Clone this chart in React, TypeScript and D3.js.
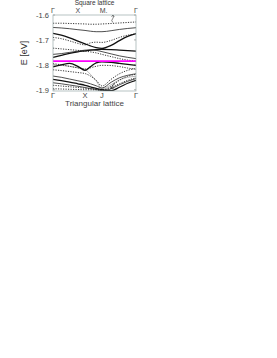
import * as d3 from 'd3';

// k path (normalized), with X at 0.386 and J at 0.59 on the bottom axis
const K = [0, 0.1, 0.2, 0.3, 0.386, 0.45, 0.52, 0.59, 0.7, 0.8, 0.9, 1];

const yTicks = [-1.6, -1.7, -1.8, -1.9];
const topLabels = [['Γ', 0], ['X', 0.3], ['M.', 0.61], ['Γ', 1]] as const;
const bottomLabels = [['Γ', 0], ['X', 0.386], ['J', 0.59], ['Γ', 1]] as const;
const fermiE = -1.785;

// solid bands
const solidThin = [
  [-1.650, -1.652, -1.655, -1.659, -1.662, -1.665, -1.667, -1.667, -1.663, -1.658, -1.654, -1.651],
  [-1.758, -1.755, -1.750, -1.745, -1.741, -1.740, -1.742, -1.747, -1.756, -1.764, -1.770, -1.775],
  [-1.845, -1.850, -1.857, -1.864, -1.870, -1.876, -1.884, -1.893, -1.870, -1.852, -1.842, -1.836],
  [-1.872, -1.876, -1.881, -1.886, -1.891, -1.895, -1.899, -1.904, -1.896, -1.880, -1.866, -1.855],
];
const solidThick = [
  [-1.674, -1.681, -1.692, -1.705, -1.716, -1.724, -1.731, -1.734, -1.722, -1.703, -1.686, -1.675],
  [-1.770, -1.762, -1.754, -1.748, -1.744, -1.741, -1.739, -1.738, -1.739, -1.741, -1.743, -1.745],
  [-1.808, -1.800, -1.794, -1.806, -1.822, -1.808, -1.792, -1.788, -1.790, -1.794, -1.798, -1.802],
  [-1.858, -1.863, -1.869, -1.876, -1.882, -1.888, -1.894, -1.900, -1.904, -1.890, -1.874, -1.862],
];
// dotted bands
const dotted = [
  [-1.633, -1.633, -1.634, -1.635, -1.636, -1.637, -1.637, -1.636, -1.634, -1.632, -1.630, -1.628],
  [-1.690, -1.695, -1.704, -1.714, -1.720, -1.712, -1.709, -1.710, -1.702, -1.690, -1.681, -1.676],
  [-1.733, -1.736, -1.739, -1.742, -1.745, -1.748, -1.752, -1.758, -1.767, -1.775, -1.781, -1.785],
  [-1.795, -1.800, -1.806, -1.812, -1.817, -1.812, -1.806, -1.802, -1.803, -1.807, -1.813, -1.818],
  [-1.820, -1.823, -1.827, -1.831, -1.835, -1.845, -1.862, -1.885, -1.858, -1.836, -1.822, -1.814],
  [-1.882, -1.885, -1.888, -1.891, -1.894, -1.896, -1.898, -1.900, -1.886, -1.862, -1.846, -1.838],
  [-1.896, -1.897, -1.898, -1.899, -1.900, -1.900, -1.901, -1.902, -1.892, -1.876, -1.862, -1.852],
];
// faint line falling from X to J
const grayBand = [-1.800, -1.802, -1.806, -1.812, -1.818, -1.838, -1.864, -1.896, -1.880, -1.860, -1.850, -1.846];

const FONT = 'Liberation Sans, Arial, sans-serif';

export default function App() {
  const x = d3.scaleLinear().domain([0, 1]).range([53, 136]);
  const y = d3.scaleLinear().domain([-1.905, -1.6]).range([91, 15]);
  const line = d3.line<number>().x((_, i) => x(K[i])).y(d => y(d)).curve(d3.curveMonotoneX);

  const [x0, x1] = x.range();
  const [yb, yt] = y.range();

  return (
    <div style={{ position: 'absolute', left: 0, top: 0 }}>
      <svg width={277} height={358} style={{ display: 'block', background: '#fff' }}>
        <defs>
          <clipPath id="plot">
            <rect x={x0} y={yt} width={x1 - x0} height={yb - yt} />
          </clipPath>
        </defs>

        <text x={(x0 + x1) / 2} y={5} fontFamily={FONT} fontSize={6.5} textAnchor="middle" fill="#333">Square lattice</text>

        {topLabels.map(([t, k]) => (
          <text key={'t' + t + k} x={x(k)} y={13.2} fontFamily={FONT} fontSize={7} textAnchor="middle" fill="#444">{t}</text>
        ))}
        {bottomLabels.map(([t, k]) => (
          <text key={'b' + t + k} x={x(k)} y={98} fontFamily={FONT} fontSize={7.5} textAnchor="middle" fill="#444">{t}</text>
        ))}
        <text x={(x0 + x1) / 2} y={106} fontFamily={FONT} fontSize={8} textAnchor="middle" fill="#444">Triangular lattice</text>

        {yTicks.map(v => (
          <g key={v}>
            <text x={49} y={y(v) + 2.8} fontFamily={FONT} fontSize={7.5} textAnchor="end" fill="#444">{v.toFixed(1)}</text>
            <line x1={x0} x2={x0 + 2} y1={y(v)} y2={y(v)} stroke="#777" strokeWidth={0.6} />
            <line x1={x1} x2={x1 - 2} y1={y(v)} y2={y(v)} stroke="#777" strokeWidth={0.6} />
          </g>
        ))}
        <text transform="translate(27,53) rotate(-90)" fontFamily={FONT} fontSize={9} textAnchor="middle" fill="#333">E [eV]</text>

        <g clipPath="url(#plot)" fill="none">
          <path d={line(grayBand) ?? ''} stroke="#999" strokeWidth={0.7} />
          {dotted.map((b, i) => (
            <path key={'d' + i} d={line(b) ?? ''} stroke="#222" strokeWidth={0.9} strokeDasharray="1.2,1.3" />
          ))}
          {solidThin.map((b, i) => (
            <path key={'s' + i} d={line(b) ?? ''} stroke="#222" strokeWidth={0.8} />
          ))}
          {solidThick.map((b, i) => (
            <path key={'S' + i} d={line(b) ?? ''} stroke="#111" strokeWidth={1.3} />
          ))}
          <line x1={x0} x2={x1} y1={y(fermiE)} y2={y(fermiE)} stroke="#ff00ff" strokeWidth={1.8} />
          {/* annotation arrows */}
          <path d={`M${x(0.72)},${y(-1.63)} q-2,-2 0,-4 q2,-2 0,-4 L${x(0.72)},${y(-1.605)}`} stroke="#333" strokeWidth={0.6} />
          <path d={`M${x(0.72) - 1.2},${y(-1.607)} L${x(0.72)},${y(-1.601)} L${x(0.72) + 1.2},${y(-1.607)}`} stroke="#333" strokeWidth={0.6} />
          <path d={`M${x(0.74)},${y(-1.872)} L${x(0.7)},${y(-1.895)}`} stroke="#333" strokeWidth={0.7} />
          <path d={`M${x(0.7) + 0.5},${y(-1.888)} L${x(0.7)},${y(-1.895)} L${x(0.7) + 3},${y(-1.893)}`} stroke="#333" strokeWidth={0.7} />
        </g>

        <rect x={x0} y={yt} width={x1 - x0} height={yb - yt} fill="none" stroke="#9aa" strokeWidth={0.7} />
      </svg>
    </div>
  );
}
